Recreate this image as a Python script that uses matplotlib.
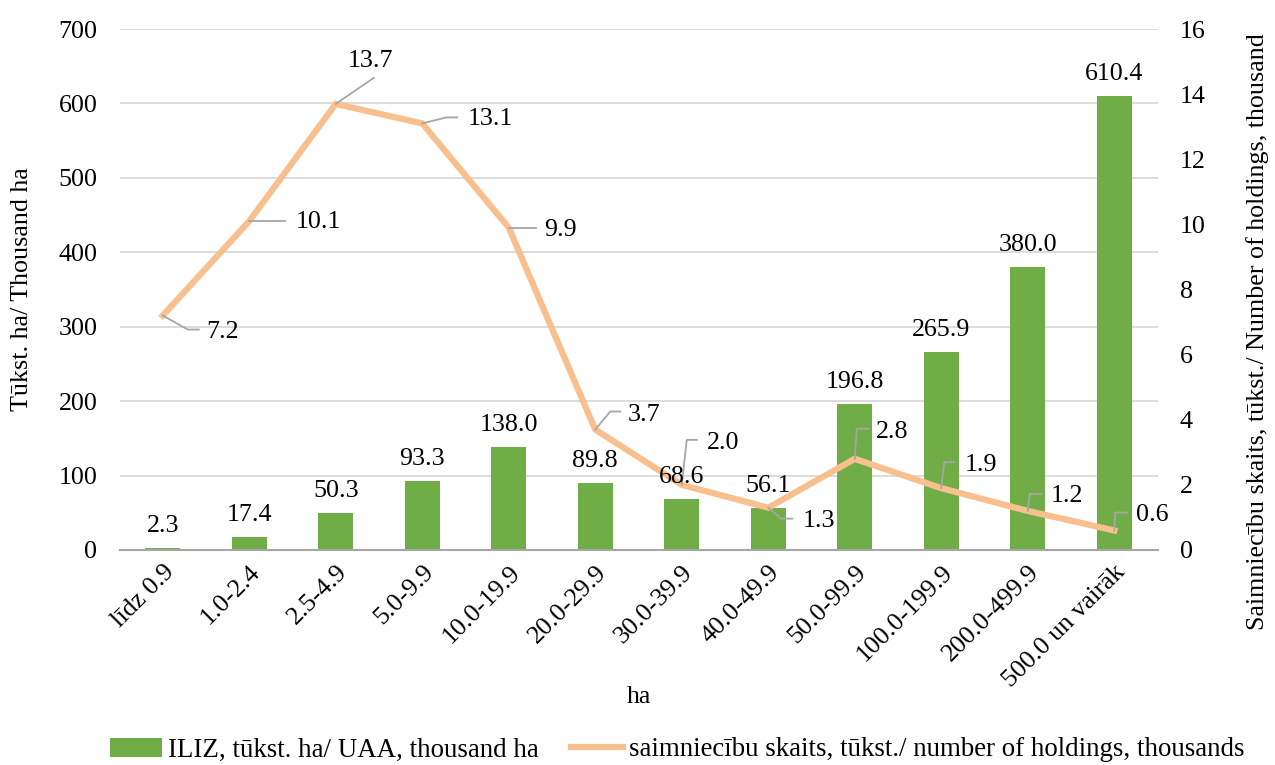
import numpy as np
import matplotlib.pyplot as plt

plt.rcParams['font.family'] = ['Liberation Serif', 'DejaVu Serif']

# data
categories = ["līdz 0.9", "1.0-2.4", "2.5-4.9", "5.0-9.9", "10.0-19.9", "20.0-29.9",
              "30.0-39.9", "40.0-49.9", "50.0-99.9", "100.0-199.9", "200.0-499.9",
              "500.0 un vairāk"]
uaa = [2.3, 17.4, 50.3, 93.3, 138.0, 89.8, 68.6, 56.1, 196.8, 265.9, 380.0, 610.4]
holdings = [7.2, 10.1, 13.7, 13.1, 9.9, 3.7, 2.0, 1.3, 2.8, 1.9, 1.2, 0.6]

bar_label = "ILIZ, tūkst. ha/ UAA, thousand ha"
line_label = "saimniecību skaits, tūkst./ number of holdings, thousands"

BAR_COLOR = "#70AD47"
LINE_COLOR = "#F9C08F"
GRID_COLOR = "#D9D9D9"
LEADER_COLOR = "#A6A6A6"
FS = 18.7

# leader line layout for line labels, pixel offsets (dx, dy with y down):
# elbow, end of leader, text anchor, horizontal alignment
leaders = [
    ((25, 14), (36, 14), (44, 16), "left"),
    ((36, 0), (36, 0), (46, 1), "left"),
    ((38, -26), (38, -26), (35, -43), "center"),
    ((24, -6), (35, -6), (45, -4), "left"),
    ((27, 0), (27, 0), (35, 2), "left"),
    ((15, -18), (25, -18), (32, -15), "left"),
    ((5, -45), (15, -45), (25, -42), "left"),
    ((13, 11), (24, 11), (34, 13), "left"),
    ((2, -30), (14, -30), (21, -27), "left"),
    ((3, -26), (13, -26), (23, -23), "left"),
    ((2, -17), (14, -17), (23, -15), "left"),
    ((1, -18), (13, -18), (22, -15), "left"),
]

fig = plt.figure(figsize=(12.75, 7.65), dpi=100)
ax = fig.add_axes([119.5 / 1275, 1 - 550 / 765, (1157.5 - 119.5) / 1275, (550 - 29) / 765])
ax2 = ax.twinx()

x = np.arange(len(categories))
ax.bar(x, uaa, width=0.4, color=BAR_COLOR, zorder=2, label=bar_label)
ax.set_xlim(-0.5, len(categories) - 0.5)
ax.set_ylim(0, 700)
ax.set_yticks(np.arange(0, 701, 100))
ax.yaxis.grid(True, color=GRID_COLOR, linewidth=1.3, zorder=0)
ax.set_axisbelow(True)

ax2.plot(x, holdings, color=LINE_COLOR, linewidth=4.5, solid_joinstyle="miter",
         zorder=3, label=line_label)
ax2.set_ylim(0, 16)
ax2.set_yticks(np.arange(0, 17, 2))

for a in (ax, ax2):
    for side in ("top", "left", "right"):
        a.spines[side].set_visible(False)
    a.tick_params(length=0, labelsize=FS, pad=16)
ax.spines["bottom"].set_color("#A6A6A6")
ax.spines["bottom"].set_linewidth(1.5)
ax2.spines["bottom"].set_visible(False)

ax.set_xticks(x)
ax.set_xticklabels(categories, rotation=45, ha="right", rotation_mode="anchor", fontsize=FS)
ax.tick_params(axis="x", pad=8)
ax.set_xlabel("ha", fontsize=FS, va="top")
ax.xaxis.set_label_coords(0.5, -(686 - 550) / 521)
ax.set_ylabel("Tūkst. ha/ Thousand ha", fontsize=FS)
ax.yaxis.set_label_coords((33 - 119.5) / 1038, 0.5)
ax2.set_ylabel("Saimniecību skaits, tūkst./ Number of holdings, thousand", fontsize=FS)
ax2.yaxis.set_label_coords((1246 - 119.5) / 1038, (550 - 332) / 521)

# bar value labels (drawn on top axes so they sit above the line)
for xi, v in zip(x, uaa):
    ax2.annotate(f"{v:.1f}", xy=(xi, v), xycoords=ax.transData, xytext=(0, 11),
                 textcoords="offset pixels", ha="center", va="bottom", fontsize=FS, zorder=5)

# line value labels with leader lines
for xi, v, (elbow, end, txt, ha) in zip(x, holdings, leaders):
    px, py = ax2.transData.transform((xi, v))
    pts = [(px, py), (px + elbow[0], py - elbow[1]), (px + end[0], py - end[1])]
    data_pts = ax2.transData.inverted().transform(pts)
    ax2.plot(data_pts[:, 0], data_pts[:, 1], color=LEADER_COLOR, linewidth=1.3, zorder=4)
    ax2.annotate(f"{v:.1f}", xy=(xi, v), xytext=(txt[0], -txt[1]),
                 textcoords="offset pixels", ha=ha, va="center", fontsize=FS, zorder=5)

h1, l1 = ax.get_legend_handles_labels()
h2, l2 = ax2.get_legend_handles_labels()
fig.legend(h1 + h2, l1 + l2, loc="center", bbox_to_anchor=(677 / 1275, 1 - 750 / 765),
           ncol=2, frameon=False, fontsize=19.4, handlelength=1.95, handletextpad=0.2,
           columnspacing=1.2, borderpad=0, borderaxespad=0)

fig.savefig("out.png", dpi=100)
